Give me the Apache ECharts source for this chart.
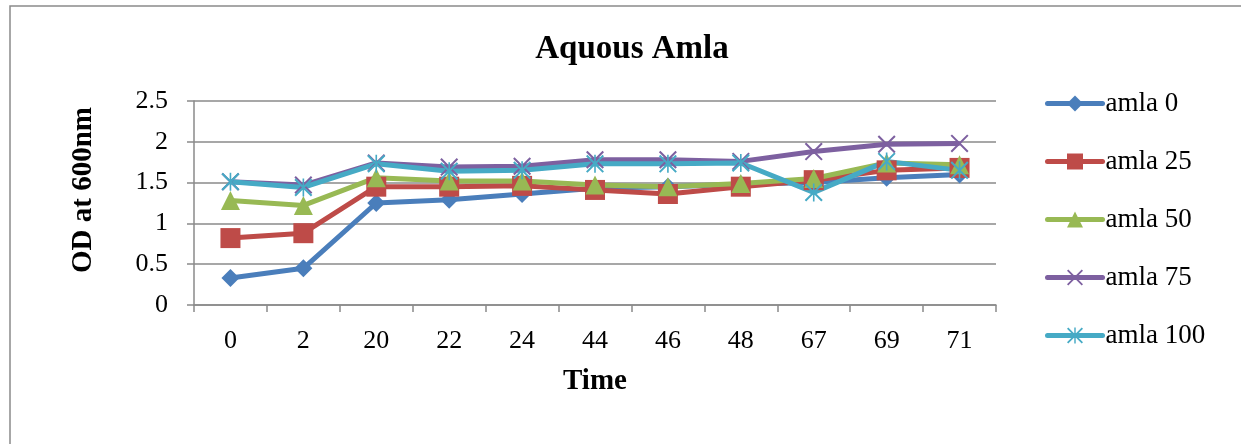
<!DOCTYPE html>
<html>
<head>
<meta charset="utf-8">
<script src="https://cdn.jsdelivr.net/npm/echarts@6/dist/echarts.min.js"></script>
<style>
  html, body { margin: 0; padding: 0; background: #fff; }
  #chart { width: 1241px; height: 444px; }
</style>
</head>
<body>
<div id="chart"></div>
<script>
// Sampling times (hours) on the category axis
const timePoints = ['0', '2', '20', '22', '24', '44', '46', '48', '67', '69', '71'];

// Optical density at 600 nm for each amla concentration
const amla0   = [0.33, 0.45, 1.25, 1.29, 1.36, 1.43, 1.45, 1.48, 1.50, 1.56, 1.60];
const amla25  = [0.82, 0.88, 1.45, 1.45, 1.46, 1.41, 1.36, 1.45, 1.53, 1.65, 1.68];
const amla50  = [1.28, 1.22, 1.56, 1.52, 1.52, 1.47, 1.45, 1.49, 1.55, 1.74, 1.72];
const amla75  = [1.51, 1.47, 1.74, 1.69, 1.70, 1.78, 1.78, 1.76, 1.88, 1.97, 1.98];
const amla100 = [1.51, 1.44, 1.73, 1.64, 1.65, 1.73, 1.73, 1.74, 1.38, 1.76, 1.65];

const yTicks = [0, 0.5, 1, 1.5, 2, 2.5];

const serif = 'Liberation Serif';

// Marker shapes: an X cross and an asterisk (X plus vertical bar)
const crossPath = 'path://M0,0.8 L0.8,0 L10,9.2 L9.2,10 Z M9.2,0 L10,0.8 L0.8,10 L0,9.2 Z';
const starPath = 'path://M0,0.8 L0.8,0 L10,9.2 L9.2,10 Z M9.2,0 L10,0.8 L0.8,10 L0,9.2 Z M4.55,0 L5.45,0 L5.45,10 L4.55,10 Z';

function makeSeries(name, data, color, symbol, size) {
  return {
    name: name,
    type: 'line',
    data: data,
    symbol: symbol,
    symbolSize: size,
    showAllSymbol: true,
    lineStyle: { color: color, width: 5 },
    itemStyle: { color: color },
    emphasis: { disabled: true },
    animation: false
  };
}

const chart = echarts.init(document.getElementById('chart'), null, { renderer: 'canvas' });

chart.setOption({
  backgroundColor: '#ffffff',
  animation: false,
  title: {
    text: 'Aquous Amla',
    left: 627,
    textAlign: 'center',
    top: 28,
    textStyle: { fontFamily: serif, fontWeight: 'bold', fontSize: 33, color: '#000' }
  },
  graphic: [
    {
      type: 'rect',
      shape: { x: 10, y: 6, width: 1300, height: 500 },
      style: { fill: 'none', stroke: '#8a8a8a', lineWidth: 1.5 },
      silent: true
    },
    {
      type: 'text',
      x: 84, y: 190,
      rotation: Math.PI / 2,
      style: {
        text: 'OD at 600nm',
        fontFamily: serif, fontWeight: 'bold', fontSize: 29, fill: '#000',
        textAlign: 'center', textVerticalAlign: 'middle'
      },
      silent: true
    }
  ],
  legend: {
    orient: 'vertical',
    left: 1045,
    top: 90,
    padding: 0,
    itemWidth: 55,
    itemHeight: 20,
    itemGap: 31,
    selectedMode: false,
    lineStyle: { width: 5, cap: 'round' },
    textStyle: { fontFamily: serif, fontSize: 27, color: '#000', padding: [0, 0, 0, -2] },
    data: ['amla 0', 'amla 25', 'amla 50', 'amla 75', 'amla 100']
  },
  grid: { left: 194, right: 245, top: 101, bottom: 139, containLabel: false },
  xAxis: {
    type: 'category',
    data: timePoints,
    boundaryGap: true,
    name: 'Time',
    nameLocation: 'middle',
    nameGap: 62,
    nameTextStyle: { fontFamily: serif, fontWeight: 'bold', fontSize: 29, color: '#000' },
    axisLine: { lineStyle: { color: '#8a8a8a', width: 1.5 } },
    axisTick: { show: true, length: 7, alignWithLabel: false, lineStyle: { color: '#8a8a8a', width: 1.5 } },
    axisLabel: { fontFamily: serif, fontSize: 26, color: '#000', margin: 23 },
    splitLine: { show: false }
  },
  yAxis: {
    type: 'value',
    min: yTicks[0],
    max: yTicks[yTicks.length - 1],
    interval: 0.5,
    axisLine: { show: true, lineStyle: { color: '#8a8a8a', width: 1.5 } },
    axisTick: { show: true, length: 7, lineStyle: { color: '#8a8a8a', width: 1.5 } },
    axisLabel: {
      fontFamily: serif, fontSize: 26, color: '#000', margin: 26,
      formatter: v => String(v)
    },
    splitLine: { show: true, lineStyle: { color: '#8a8a8a', width: 1.5 } }
  },
  series: [
    makeSeries('amla 0', amla0, '#4a7ebb', 'diamond', 18),
    makeSeries('amla 25', amla25, '#be4b48', 'rect', 20),
    makeSeries('amla 50', amla50, '#98b954', 'triangle', 19),
    makeSeries('amla 75', amla75, '#7d60a0', crossPath, 18),
    makeSeries('amla 100', amla100, '#46aac5', starPath, 18)
  ]
});
</script>
</body>
</html>
